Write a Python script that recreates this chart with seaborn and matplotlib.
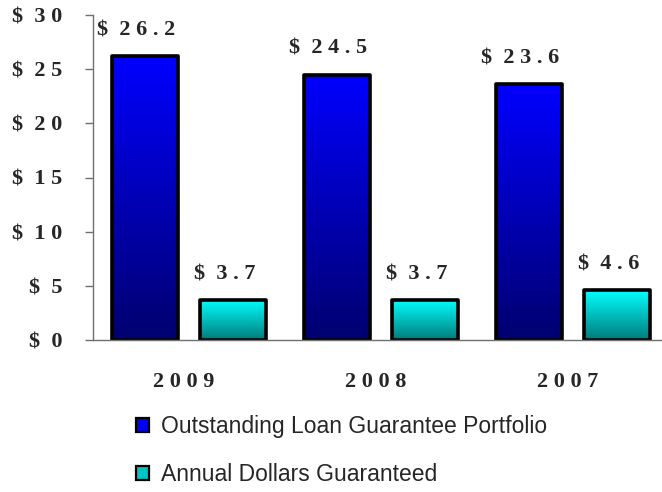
import numpy as np
import pandas as pd
import seaborn as sns
import matplotlib.pyplot as plt
from matplotlib.patches import Patch
from matplotlib.colors import LinearSegmentedColormap

years = ["2009", "2008", "2007"]
series_names = ["Outstanding Loan Guarantee Portfolio", "Annual Dollars Guaranteed"]
portfolio = [26.2, 24.5, 23.6]
annual = [3.7, 3.7, 4.6]
y_ticks = [0, 5, 10, 15, 20, 25, 30]


def spaced(text):
    # the original chart uses wide letter spacing on its serif labels
    return " ".join(text.replace(" ", "")).replace("$", "$ ")


df = pd.DataFrame(
    {
        "year": years * 2,
        "series": [series_names[0]] * len(years) + [series_names[1]] * len(years),
        "amount": portfolio + annual,
    }
)

# (top, bottom) colours of the vertical gradient in each bar
gradients = [("#0000ff", "#00006e"), ("#00ffff", "#007a7a")]
legend_colors = ["#0000f0", "#00c4c4"]

sns.set_style("white")
plt.rcParams["font.family"] = ["Liberation Serif", "DejaVu Serif"]

fig = plt.figure(figsize=(6.62, 4.92), dpi=100)
ax = fig.add_axes([93 / 662, 152 / 492, 576 / 662, 325 / 492])

sns.barplot(
    data=df,
    x="year",
    y="amount",
    hue="series",
    order=years,
    hue_order=series_names,
    palette=legend_colors,
    width=0.92,
    gap=0.26,
    edgecolor="black",
    linewidth=2.6,
    legend=False,
    ax=ax,
)

for container, (top, bottom), values in zip(ax.containers, gradients, [portfolio, annual]):
    cmap = LinearSegmentedColormap.from_list("bar_grad", [bottom, top])
    for bar, value in zip(container, values):
        x0, w, h = bar.get_x(), bar.get_width(), bar.get_height()
        img = ax.imshow(
            np.linspace(0, 1, 256).reshape(-1, 1),
            cmap=cmap,
            origin="lower",
            extent=[x0, x0 + w, 0, h],
            aspect="auto",
            zorder=1.5,
        )
        img.set_clip_path(bar)
        bar.set_facecolor("none")
        bar.set_joinstyle("round")
        bar.set_zorder(2)
        ax.annotate(
            spaced(f"${value:.1f}"),
            xy=(x0 + w / 2, h),
            xytext=(-6, 15),
            textcoords="offset points",
            ha="center",
            va="baseline",
            fontsize=16,
            fontweight="bold",
        )

ax.set_xlim(-0.5, len(years) - 0.5)
ax.set_ylim(0, 30)
ax.set_yticks(y_ticks, labels=[spaced(f"${t}") for t in y_ticks])
ax.set_xticks(range(len(years)), labels=[spaced(y) + "  " for y in years])
ax.set_xticks(np.arange(len(years) + 1) - 0.5, minor=True)
ax.set_xlabel("")
ax.set_ylabel("")

for label in ax.get_xticklabels() + ax.get_yticklabels():
    label.set_fontsize(16)
    label.set_fontweight("bold")

ax.tick_params(axis="x", which="major", length=0, pad=23)
ax.tick_params(axis="x", which="minor", length=7, width=1, color="#707070", direction="out")
ax.tick_params(axis="y", length=6, width=1, color="#707070", direction="out", pad=16, left=True)

sns.despine(ax=ax)
for side in ["left", "bottom"]:
    ax.spines[side].set_color("#707070")
    ax.spines[side].set_linewidth(1)

handles = [
    Patch(facecolor=c, edgecolor="black", linewidth=1.6) for c in legend_colors
]
fig.legend(
    handles,
    series_names,
    loc="upper left",
    bbox_to_anchor=(136 / 662, 1 - 415 / 492),
    frameon=False,
    prop={"family": "Liberation Sans", "size": 16.5},
    handlelength=0.55,
    handleheight=0.55,
    handletextpad=0.55,
    labelspacing=1.1,
    borderpad=0,
    borderaxespad=0,
)

fig.savefig("out.png", dpi=100)
